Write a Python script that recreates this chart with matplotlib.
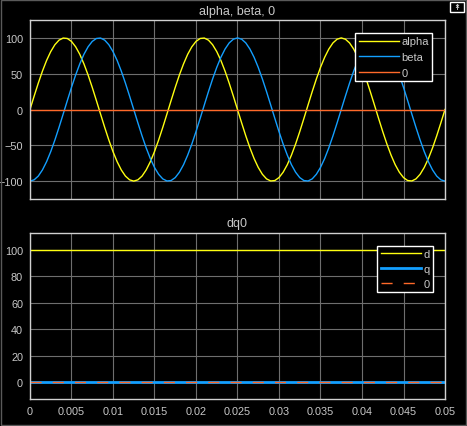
import numpy as np
import matplotlib
matplotlib.use("Agg")
import matplotlib.pyplot as plt
from matplotlib.patches import Rectangle

# ---- data ----
alpha = [0, 18.7, 36.8, 53.6, 68.5, 80.9, 90.5, 96.9, 99.8, 99.2,
         95.1, 87.6, 77.1, 63.7, 48.2, 30.9, 12.5, -6.3, -24.9, -42.6,
         -58.8, -72.9, -84.4, -93.0, -98.2, -100, -98.2, -93.0, -84.4, -72.9,
         -58.8, -42.6, -24.9, -6.3, 12.5, 30.9, 48.2, 63.7, 77.1, 87.6,
         95.1, 99.2, 99.8, 96.9, 90.5, 80.9, 68.5, 53.6, 36.8, 18.7,
         0, -18.7, -36.8, -53.6, -68.5, -80.9, -90.5, -96.9, -99.8, -99.2,
         -95.1, -87.6, -77.1, -63.7, -48.2, -30.9, -12.5, 6.3, 24.9, 42.6,
         58.8, 72.9, 84.4, 93.0, 98.2, 100, 98.2, 93.0, 84.4, 72.9,
         58.8, 42.6, 24.9, 6.3, -12.5, -30.9, -48.2, -63.7, -77.1, -87.6,
         -95.1, -99.2, -99.8, -96.9, -90.5, -80.9, -68.5, -53.6, -36.8, -18.7,
         0]
beta = [-100, -98.2, -93.0, -84.4, -72.9, -58.8, -42.6, -24.9, -6.3, 12.5,
        30.9, 48.2, 63.7, 77.1, 87.6, 95.1, 99.2, 99.8, 96.9, 90.5,
        80.9, 68.5, 53.6, 36.8, 18.7, 0, -18.7, -36.8, -53.6, -68.5,
        -80.9, -90.5, -96.9, -99.8, -99.2, -95.1, -87.6, -77.1, -63.7, -48.2,
        -30.9, -12.5, 6.3, 24.9, 42.6, 58.8, 72.9, 84.4, 93.0, 98.2,
        100, 98.2, 93.0, 84.4, 72.9, 58.8, 42.6, 24.9, 6.3, -12.5,
        -30.9, -48.2, -63.7, -77.1, -87.6, -95.1, -99.2, -99.8, -96.9, -90.5,
        -80.9, -68.5, -53.6, -36.8, -18.7, 0, 18.7, 36.8, 53.6, 68.5,
        80.9, 90.5, 96.9, 99.8, 99.2, 95.1, 87.6, 77.1, 63.7, 48.2,
        30.9, 12.5, -6.3, -24.9, -42.6, -58.8, -72.9, -84.4, -93.0, -98.2,
        -100]
t_start, t_end = 0.0, 0.05
t_ab = np.linspace(t_start, t_end, len(alpha))
t_const = [0.0, 0.05]
zero_ab = [0, 0]
d_vals = [100, 100]
q_vals = [0, 0]
z_vals = [0, 0]

xticks = [0, 0.005, 0.01, 0.015, 0.02, 0.025, 0.03, 0.035, 0.04, 0.045, 0.05]
xticklabels = ["0", "0.005", "0.01", "0.015", "0.02", "0.025", "0.03",
               "0.035", "0.04", "0.045", "0.05"]
yticks_top = [-100, -50, 0, 50, 100]
yticks_bot = [0, 20, 40, 60, 80, 100]

# ---- style ----
YEL = (1.0, 1.0, 0.0667)
BLU = (0.0745, 0.6235, 1.0)
ORA = (1.0, 0.4118, 0.1608)
TXT = "#c8c8c8"
GRID = "#6e6e6e"
SPINE = "#d0d0d0"

plt.rcParams['font.family'] = ['Liberation Sans', 'DejaVu Sans']
fig = plt.figure(figsize=(4.67, 4.27), dpi=100, facecolor="black")

ax1 = fig.add_axes([0.0642, 0.5316, 0.8887, 0.4192])
ax2 = fig.add_axes([0.0642, 0.0632, 0.8887, 0.3888])

def style(ax, yt, ylim):
    ax.set_facecolor("black")
    ax.set_xlim(t_start, t_end)
    ax.set_ylim(*ylim)
    ax.set_xticks(xticks)
    ax.set_yticks(yt)
    ax.grid(True, color=GRID, linewidth=0.8)
    ax.set_axisbelow(True)
    for s in ax.spines.values():
        s.set_color(SPINE)
        s.set_linewidth(1.0)
    ax.tick_params(colors=TXT, labelsize=7.8, length=0, pad=5)

style(ax1, yticks_top, (-125, 125))
style(ax2, yticks_bot, (-12.5, 112.5))

ax1.set_xticklabels([])
ax2.set_xticklabels(xticklabels)

ax1.plot(t_ab, alpha, color=YEL, lw=1.0, label="alpha")
ax1.plot(t_ab, beta, color=BLU, lw=1.0, label="beta")
ax1.plot(t_const, zero_ab, color=ORA, lw=1.0, label="0")
ax1.set_title("alpha, beta, 0", color=TXT, fontsize=9, pad=4)

ax2.plot(t_const, d_vals, color=YEL, lw=1.0, label="d")
ax2.plot(t_const, q_vals, color=BLU, lw=2.0, label="q")
ax2.plot(t_const, z_vals, color=ORA, lw=1.0, ls=(0, (8, 8)), label="0")
ax2.set_title("dq0", color=TXT, fontsize=9, pad=5)

for ax, anchor, lsp in ((ax1, (0.969, 0.927), 0.5), (ax2, (0.971, 0.922), 0.42)):
    leg = ax.legend(loc="upper right", bbox_to_anchor=anchor, fontsize=8,
                    frameon=True, fancybox=False, handlelength=3.6,
                    handletextpad=0.25, borderpad=0.3, labelspacing=lsp,
                    borderaxespad=0.0)
    leg.get_frame().set_facecolor("black")
    leg.get_frame().set_edgecolor("white")
    leg.get_frame().set_linewidth(1.0)
    leg.get_frame().set_alpha(1.0)
    for txt in leg.get_texts():
        txt.set_color(TXT)

# figure border
fig.patches.append(Rectangle((0.002, 0.002), 0.996, 0.996, transform=fig.transFigure,
                             fill=False, edgecolor="#5a5a5a", linewidth=1.0))
# small icon at top right
fig.patches.append(Rectangle((450/467, 1-13/427), 14/467, 10/427, transform=fig.transFigure,
                             fill=False, edgecolor="white", linewidth=1.0))
fig.text(457/467, 1-8/427, "↟", color="white", fontsize=6, ha="center", va="center",
         family=['DejaVu Sans'])

fig.savefig("out.png", dpi=100, facecolor="black")
